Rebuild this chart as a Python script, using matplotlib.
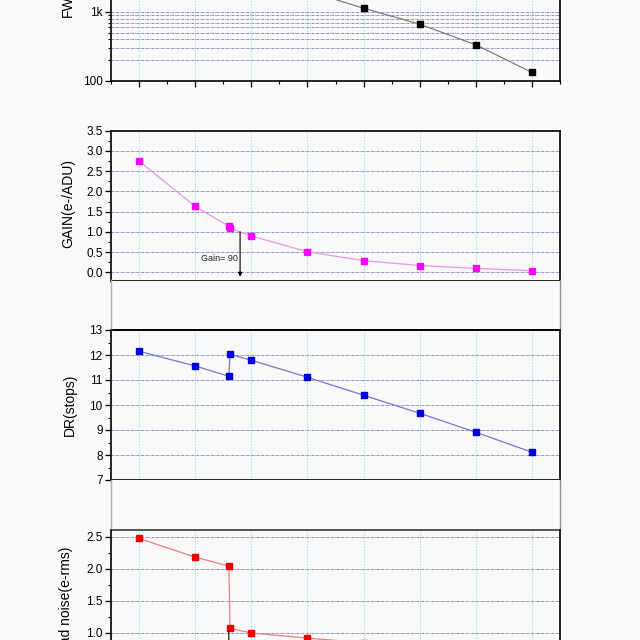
import matplotlib
matplotlib.use("Agg")
import matplotlib.pyplot as plt
from matplotlib.ticker import MultipleLocator, FixedLocator, FuncFormatter, NullFormatter, LogLocator

plt.rcParams['font.family'] = ['Liberation Sans', 'DejaVu Sans']

# gain setting (x) shared by all panels
gain_x = [0, 50, 80, 81, 100, 150, 200, 250, 300, 350]
fwc = [11200, 6600, 4630, 4480, 3560, 2030, 1135, 665, 333, 132]
gain_e = [2.75, 1.63, 1.14, 1.09, 0.90, 0.51, 0.29, 0.17, 0.10, 0.04]
dr = [12.15, 11.56, 11.15, 12.03, 11.79, 11.11, 10.39, 9.67, 8.91, 8.11]
rn = [2.47, 2.18, 2.04, 1.07, 1.00, 0.92, 0.85, 0.82, 0.69, 0.48]
x_ticks = [0, 50, 100, 150, 200, 250, 300, 350]

BG = '#f9f9fa'
HGRID = '#7c7cb8'
VGRID = '#a6dcef'
XL = (-25, 375)

fig = plt.figure(figsize=(6.4, 6.4), dpi=100, facecolor=BG)


def px_axes(top, bottom):
    return fig.add_axes([111 / 640, 1 - bottom / 640, 449 / 640, (bottom - top) / 640])


def style(ax, ytop_data, ymin, hgrid_vals):
    ax.set_facecolor(BG)
    ax.set_xlim(*XL)
    ax.xaxis.set_major_locator(FixedLocator(x_ticks))
    ax.xaxis.set_minor_locator(MultipleLocator(25))
    ax.tick_params(axis='x', which='both', labelbottom=False, direction='out', bottom=True, top=False)
    ax.tick_params(which='major', length=4, width=0.9, labelsize=8.5, pad=2)
    ax.tick_params(which='minor', length=2.2, width=0.8)
    ax.tick_params(axis='y', which='both', right=False)
    for s in ax.spines.values():
        s.set_linewidth(1.2)
    ax.vlines(x_ticks, ymin, ytop_data, colors=VGRID, linestyles=(0, (1.5, 1.5)), lw=0.7, zorder=0)
    ax.hlines(hgrid_vals, XL[0], XL[1], colors=HGRID, linestyles=(0, (3, 1, 1, 1)), lw=0.6, zorder=0)


# FWC panel (mostly above the visible area)
ax0 = px_axes(-130, 80.7)
ax0.set_yscale('log')
ax0.set_ylim(100, 100 * 10 ** (210.7 / 68.7))
style(ax0, ax0.get_ylim()[1], 100,
      [v * 10 ** k for k in (2, 3, 4) for v in range(2, 11) if v * 10 ** k < 1e5])
ax0.yaxis.set_major_locator(LogLocator(base=10))
ax0.yaxis.set_minor_locator(LogLocator(base=10, subs=range(2, 10)))
ax0.yaxis.set_minor_formatter(NullFormatter())
ax0.yaxis.set_major_formatter(FuncFormatter(lambda v, p: '%dk' % (v / 1000) if v >= 1000 else '%d' % v))
ax0.plot(gain_x, fwc, color='#707070', lw=0.8, marker='s', ms=4.3, mfc='k', mec='k', zorder=3)
fig.text(68 / 640, 1 - 17 / 640, 'FWC(e-)', rotation=90, ha='center', va='bottom', fontsize=10)

# GAIN panel
ax1 = px_axes(130.7, 280.5)
ax1.set_ylim(-0.2, 3.5)
style(ax1, 3.5, -0.2, [0, 0.5, 1.0, 1.5, 2.0, 2.5, 3.0])
ax1.yaxis.set_major_locator(MultipleLocator(0.5))
ax1.yaxis.set_minor_locator(MultipleLocator(0.25))
ax1.yaxis.set_major_formatter(FuncFormatter(lambda v, p: '%.1f' % v))
ax1.plot(gain_x, gain_e, color='#e29ae6', lw=0.9, marker='s', ms=4.3, mfc='#ff00ff', mec='#ff00ff', zorder=3)
ax1.annotate('', xy=(90, -0.11), xytext=(90, 1.0),
             arrowprops=dict(arrowstyle='-|>', color='k', lw=0.8, mutation_scale=6, shrinkA=0, shrinkB=0))
ax1.text(88, 0.34, 'Gain= 90', ha='right', va='center', fontsize=6.5, color='#222222')
fig.text(68 / 640, 1 - 203 / 640, 'GAIN(e-/ADU)', rotation=90, ha='center', va='center', fontsize=10)

# DR panel
ax2 = px_axes(280.5, 480)
ax2.set_ylim(7, 7 + 199.5 / 25)
style(ax2, 13, 7, [8, 9, 10, 11, 12])
ax2.yaxis.set_major_locator(FixedLocator([7, 8, 9, 10, 11, 12, 13]))
ax2.yaxis.set_minor_locator(FixedLocator([7.5, 8.5, 9.5, 10.5, 11.5, 12.5]))
ax2.spines['top'].set_visible(False)
ax2.spines['left'].set_bounds(7, 13)
ax2.spines['right'].set_bounds(7, 13)
ax2.axhline(13, color='k', lw=1.4)
ax2.plot([XL[0], XL[0]], [13, 15], color='#b0b0b0', lw=1.0, clip_on=False)
ax2.plot([XL[1], XL[1]], [13, 15], color='#909090', lw=1.0, clip_on=False)
ax2.plot(gain_x, dr, color='#7777cc', lw=0.9, marker='s', ms=4.3, mfc='#0000dd', mec='#0000dd', zorder=3)
fig.text(70 / 640, 1 - 405 / 640, 'DR(stops)', rotation=90, ha='center', va='center', fontsize=10)

# Read noise panel (bottom part cut off)
ax3 = px_axes(480, 678)
ax3.set_ylim(0.3, 0.3 + 198 / 64.3)
style(ax3, 2.6, 0.3, [0.5, 1.0, 1.5, 2.0, 2.5])
ax3.yaxis.set_major_locator(FixedLocator([0.5, 1.0, 1.5, 2.0, 2.5]))
ax3.yaxis.set_minor_locator(FixedLocator([0.75, 1.25, 1.75, 2.25]))
ax3.yaxis.set_major_formatter(FuncFormatter(lambda v, p: '%.1f' % v))
ax3.spines['top'].set_visible(False)
ax3.spines['left'].set_bounds(0.3, 2.6)
ax3.spines['right'].set_bounds(0.3, 2.6)
ax3.axhline(2.6, color='#555555', lw=1.4)
ax3.plot([XL[0], XL[0]], [2.6, 3.38], color='#b0b0b0', lw=1.0, clip_on=False)
ax3.plot([XL[1], XL[1]], [2.6, 3.38], color='#909090', lw=1.0, clip_on=False)
ax3.plot(gain_x, rn, color='#e88080', lw=0.9, marker='s', ms=4.3, mfc='#ee0000', mec='#ee0000', zorder=3)
ax3.annotate('', xy=(80, 0.35), xytext=(80, 1.02),
             arrowprops=dict(arrowstyle='-|>', color='k', lw=0.8, mutation_scale=6, shrinkA=0, shrinkB=0))
fig.text(66 / 640, 1 - 604 / 640, 'Read noise(e-rms)', rotation=90, ha='center', va='center', fontsize=10)

fig.savefig('out.png', dpi=100, facecolor=BG)
